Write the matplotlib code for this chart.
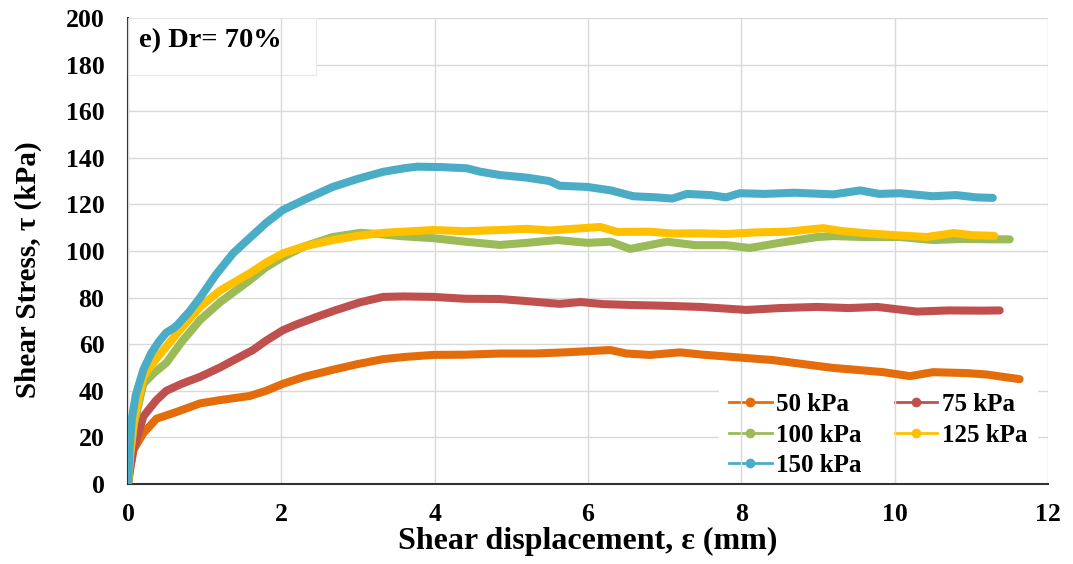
import matplotlib
matplotlib.use("Agg")
import matplotlib.pyplot as plt
from matplotlib.lines import Line2D
from matplotlib.patches import Rectangle

# ---------------- data ----------------
labels = ["50 kPa", "75 kPa", "100 kPa", "125 kPa", "150 kPa"]
colors = ["#E46C0A", "#C0504D", "#9BBB59", "#FFC000", "#4BACC6"]

x50 = [0, 0.03, 0.07, 0.2, 0.37, 0.64, 0.94, 1.2, 1.59, 1.8, 2.02, 2.3, 2.67, 3.0, 3.33, 3.6, 3.98,
       4.4, 4.85, 5.3, 5.7, 5.99, 6.29, 6.5, 6.81, 7.2, 7.5, 7.89, 8.41, 8.8, 9.2, 9.5, 9.85, 10.2,
       10.5, 10.94, 11.2, 11.41, 11.63]
y50 = [0, 7, 14.6, 21.8, 28, 31, 34.6, 36, 37.8, 40, 43, 46, 49, 51.5, 53.6, 54.5, 55.4,
       55.5, 56, 56, 56.5, 57, 57.5, 56, 55.4, 56.5, 55.5, 54.5, 53.2, 51.5, 49.8, 49, 48, 46.3,
       48, 47.6, 47, 46, 45]

x75 = [0, 0.03, 0.07, 0.2, 0.37, 0.5, 0.7, 0.94, 1.2, 1.37, 1.63, 1.8, 2.02, 2.2, 2.46, 2.7, 3.03,
       3.33, 3.6, 3.98, 4.4, 4.85, 5.2, 5.63, 5.9, 6.2, 6.59, 7.0, 7.46, 8.07, 8.5, 8.99, 9.4, 9.77,
       10.29, 10.7, 11.15, 11.37]
y75 = [0, 7, 14.6, 29, 36, 40, 43, 46, 50, 53, 57.5, 61.5, 66, 68.5, 71.7, 74.5, 78,
       80.3, 80.5, 80.3, 79.5, 79.4, 78.5, 77.3, 78.1, 77.2, 76.8, 76.5, 76, 74.7, 75.5, 76, 75.5, 76,
       74, 74.5, 74.4, 74.5]

x100 = [0, 0.03, 0.08, 0.2, 0.35, 0.5, 0.7, 0.94, 1.2, 1.59, 1.8, 2.02, 2.3, 2.67, 3.03, 3.3, 3.55,
        3.98, 4.4, 4.85, 5.2, 5.6, 6.0, 6.29, 6.55, 6.8, 7.03, 7.4, 7.8, 8.11, 8.5, 8.99, 9.2, 9.6,
        10.07, 10.5, 10.9, 11.28, 11.5]
y100 = [0, 13, 26, 43, 48, 52, 61, 70.4, 78, 87.5, 93, 97.4, 102, 106, 107.8, 107.2, 106.4,
        105.5, 104, 102.6, 103.5, 104.7, 103.5, 104, 100.9, 102.5, 104, 102.5, 102.5, 101.3, 103.5,
        106, 106.4, 106, 106, 104.7, 105.2, 105, 105]

x125 = [0, 0.03, 0.08, 0.2, 0.35, 0.5, 0.7, 0.94, 1.2, 1.59, 1.8, 2.02, 2.3, 2.67, 3.0, 3.33, 3.6,
        3.98, 4.4, 4.85, 5.2, 5.5, 5.8, 6.16, 6.38, 6.8, 7.1, 7.46, 7.8, 8.2, 8.6, 9.07, 9.3, 9.64,
        10.0, 10.42, 10.77, 11.0, 11.3]
y125 = [0, 14, 28, 46, 53, 59, 67, 76, 83, 90.5, 95, 99, 102, 104.7, 106.5, 107.8, 108.3,
        109, 108.5, 109, 109.5, 108.8, 109.5, 110.3, 108.2, 108.3, 107.5, 107.6, 107.3, 108, 108.3,
        109.8, 108.6, 107.6, 106.8, 106, 107.7, 106.8, 106.5]

x150 = [0, 0.02, 0.05, 0.1, 0.2, 0.3, 0.4, 0.5, 0.6, 0.65, 0.8, 0.94, 1.15, 1.37, 1.6, 1.8, 2.02,
        2.3, 2.67, 3.0, 3.33, 3.6, 3.77, 4.1, 4.42, 4.6, 4.85, 5.2, 5.5, 5.63, 5.99, 6.3, 6.59, 6.9,
        7.1, 7.29, 7.6, 7.8, 7.98, 8.3, 8.7, 9.2, 9.55, 9.8, 10.07, 10.5, 10.8, 11.07, 11.28]
y150 = [0, 15, 28, 38, 49, 56, 61, 65, 67, 68.5, 74, 80, 90, 99, 106, 112, 117.6,
        122, 127.5, 131, 134, 135.5, 136.2, 136, 135.5, 134, 132.6, 131.5, 130, 128, 127.5, 126,
        123.5, 123, 122.5, 124.5, 124, 123, 124.8, 124.5, 125, 124.3, 126, 124.5, 124.8, 123.5, 124,
        123, 122.8]

series_x = [x50, x75, x100, x125, x150]
series_y = [y50, y75, y100, y125, y150]

xticks = [0, 2, 4, 6, 8, 10, 12]
yticks = [0, 20, 40, 60, 80, 100, 120, 140, 160, 180, 200]

# ---------------- plot ----------------
plt.rcParams['font.family'] = ['Liberation Serif', 'DejaVu Serif']
plt.rcParams['font.weight'] = 'bold'

fig = plt.figure(figsize=(10.73, 5.64), dpi=100)
ax = fig.add_axes([128/1073, 1 - 484/564, (1048-128)/1073, (484-18)/564])

for xs, ys, c in zip(series_x, series_y, colors):
    ax.plot(xs, ys, color=c, lw=5.8, solid_capstyle='round', solid_joinstyle='round', zorder=3)

ax.set_xlim(0, 12)
ax.set_ylim(0, 200)
ax.set_xticks(xticks)
ax.set_yticks(yticks)
ax.tick_params(axis='both', length=0, labelsize=18.5)
ax.tick_params(axis='y', pad=17)
ax.tick_params(axis='x', pad=14)
for lab in ax.get_xticklabels() + ax.get_yticklabels():
    lab.set_fontweight('bold')

ax.grid(True, color='#d9d9d9', lw=1.0)
ax.set_axisbelow(True)
ax.yaxis.set_zorder(0.5)
ax.xaxis.set_zorder(1.6)

for s in ['top', 'right']:
    ax.spines[s].set_visible(False)
for s in ['left', 'bottom']:
    ax.spines[s].set_color('#333333')
    ax.spines[s].set_linewidth(1.5)
ax.spines['left'].set_zorder(0.8)
ax.spines['bottom'].set_zorder(2.5)

ax.set_xlabel("Shear displacement, ε (mm)", fontsize=23, fontweight='bold', labelpad=0.5)
ax.set_ylabel("Shear Stress, τ (kPa)", fontsize=21, fontweight='bold')
ax.yaxis.set_label_coords(-0.094, 0.459)

# title box
ax.add_patch(Rectangle((0.0, (484-75)/466), (316-128)/920, 1 - (484-75)/466, transform=ax.transAxes,
                       facecolor='white', edgecolor='#e8e8e8', lw=0.8, zorder=1, clip_on=False))
ax.text((139-128)/920, (484-41)/466, "e) Dr= 70%", transform=ax.transAxes, fontsize=20.5,
        fontweight='bold', va='center', ha='left', zorder=1.2)

# legend (row-wise order as in the reference)
order = [0, 2, 4, 1, 3]
handles = [Line2D([0], [0], color=colors[i], lw=2, marker='o', markersize=6) for i in order]
leg = ax.legend(handles, [labels[i] for i in order], loc='upper left',
                bbox_to_anchor=((719-128)/920, (484-383)/466), ncol=2,
                frameon=True, framealpha=1, facecolor='white', edgecolor='none', fancybox=False,
                prop=dict(family='Liberation Serif', weight='bold', size=18),
                handlelength=1.7, handletextpad=0.2, columnspacing=1.3, labelspacing=0.3,
                borderpad=0.4, borderaxespad=0.0)
leg.set_zorder(1)

fig.savefig("out.png", dpi=100)
